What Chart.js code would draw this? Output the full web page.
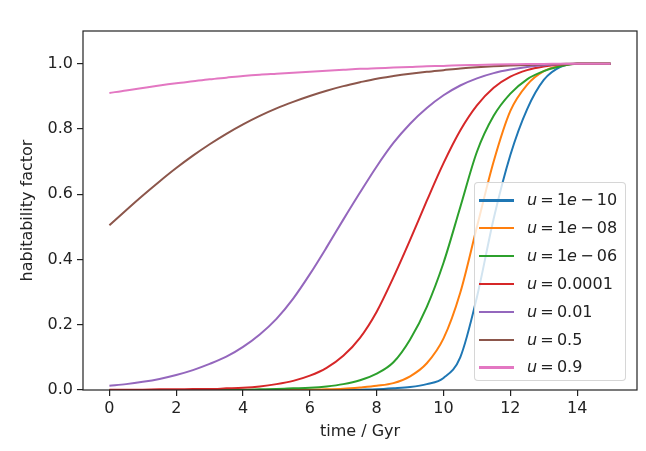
<!DOCTYPE html>
<html>
<head>
<meta charset="utf-8">
<script src="https://cdn.jsdelivr.net/npm/chart.js@4"></script>
<style>
  body{margin:0;background:#fff;}
  #wrap{position:relative;width:646px;height:451px;}
  #legend{position:absolute;left:474px;top:182px;width:152px;height:199px;box-sizing:border-box;
    background:rgba(255,255,255,0.8);border:1px solid rgba(204,204,204,0.8);border-radius:4px;
    font-family:'DejaVu Sans';font-size:16px;color:#222;}
  .row{position:absolute;left:4px;height:20px;}
  .row .sw{position:absolute;left:0;top:9px;width:35px;height:2.6px;}
  .row .tx{position:absolute;left:48px;top:0;white-space:nowrap;line-height:20px;}
  .op{margin:0 0.2em;}
</style>
</head>
<body>
<div id="wrap">
  <canvas id="c" width="646" height="451"></canvas>
  <div id="legend"></div>
</div>
<script>
// time grid (Gyr), one value per 0.5 Gyr
const times=[0,0.5,1,1.5,2,2.5,3,3.5,4,4.5,5,5.5,6,6.5,7,7.5,8,8.5,9,9.5,10,10.5,11,11.5,12,12.5,13,13.5,14,14.5,15];

const uLabels=['1e-10','1e-08','1e-06','0.0001','0.01','0.5','0.9'];
const colors=['#1f77b4','#ff7f0e','#2ca02c','#d62728','#9467bd','#8c564b','#e377c2'];

const hU1e10=[0,0,0,0,0,0,0,0,0,0,0,0,0,0,0,0.001,0.002,0.005,0.009,0.018,0.037,0.1,0.285,0.525,0.72,0.86,0.95,0.99,1,1,1];
const hU1e08=[0,0,0,0,0,0,0,0,0,0,0,0.001,0.001,0.002,0.004,0.008,0.013,0.021,0.042,0.082,0.158,0.298,0.5,0.70,0.855,0.935,0.977,0.994,1,1,1];
const hU1e06=[0,0,0,0,0,0,0,0.001,0.001,0.002,0.003,0.005,0.007,0.011,0.018,0.03,0.05,0.085,0.155,0.255,0.39,0.56,0.73,0.84,0.908,0.952,0.977,0.992,1,1,1];
const hU1e04=[0.001,0.001,0.001,0.002,0.002,0.003,0.003,0.005,0.007,0.011,0.018,0.028,0.044,0.068,0.105,0.16,0.24,0.345,0.46,0.58,0.695,0.795,0.872,0.926,0.96,0.98,0.991,0.997,1,1,1];
const hU001=[0.013,0.018,0.025,0.034,0.046,0.061,0.08,0.102,0.132,0.17,0.218,0.28,0.355,0.437,0.522,0.605,0.685,0.757,0.816,0.864,0.903,0.933,0.955,0.971,0.982,0.99,0.995,0.998,1,1,1];
const hU05=[0.505,0.551,0.596,0.639,0.68,0.718,0.753,0.785,0.814,0.84,0.863,0.883,0.901,0.917,0.931,0.943,0.954,0.962,0.969,0.975,0.98,0.985,0.989,0.992,0.994,0.996,0.998,0.999,1,1,1];
const hU09=[0.91,0.918,0.925,0.933,0.94,0.946,0.952,0.957,0.962,0.966,0.969,0.972,0.975,0.978,0.981,0.984,0.986,0.988,0.99,0.992,0.993,0.995,0.996,0.997,0.998,0.999,0.999,1,1,1,1];

const series=[hU1e10,hU1e08,hU1e06,hU1e04,hU001,hU05,hU09];

const xTicks=[0,2,4,6,8,10,12,14];
const yTicks=[0,0.2,0.4,0.6,0.8,1.0];

Chart.defaults.font.family='DejaVu Sans';
Chart.defaults.font.size=16;
Chart.defaults.color='#222';

const frame={
  id:'frame',
  afterDatasetsDraw(chart){
    const a=chart.chartArea, ctx=chart.ctx;
    ctx.save();
    ctx.strokeStyle='#222';
    ctx.lineWidth=1.2;
    ctx.strokeRect(a.left,a.top,a.right-a.left,a.bottom-a.top);
    ctx.restore();
  }
};

const datasets=series.map((vals,i)=>({
  label:'u = '+uLabels[i],
  data:vals.map((v,k)=>({x:times[k],y:v})),
  borderColor:colors[i],
  borderWidth:2,
  pointRadius:0,
  fill:false,
  cubicInterpolationMode:'monotone',
  order:-i
}));

new Chart(document.getElementById('c'),{
  type:'line',
  data:{datasets},
  options:{
    responsive:false,
    animation:false,
    devicePixelRatio:1,
    layout:{padding:{top:31,right:9,left:0,bottom:0}},
    plugins:{legend:{display:false},tooltip:{enabled:false}},
    scales:{
      x:{
        type:'linear',min:-0.79,max:15.79,
        afterBuildTicks:s=>{s.ticks=xTicks.map(v=>({value:v}));},
        afterFit:s=>{s.height=61;},
        ticks:{padding:3,callback:v=>String(v)},
        grid:{drawOnChartArea:false,drawTicks:true,tickLength:6,tickColor:'#222',lineWidth:1.2},
        border:{display:false},
        // bottom titles are offset by padding.bottom
        title:{display:true,text:'time / Gyr',padding:{top:4,bottom:9.5}}
      },
      y:{
        type:'linear',min:0,max:1.1,
        afterBuildTicks:s=>{s.ticks=yTicks.map(v=>({value:v}));},
        afterFit:s=>{s.width=83;},
        ticks:{padding:4,callback:v=>v.toFixed(1)},
        grid:{drawOnChartArea:false,drawTicks:true,tickLength:6,tickColor:'#222',lineWidth:1.2},
        border:{display:false},
        title:{display:true,text:'habitability factor',padding:{top:18}}
      }
    }
  },
  plugins:[frame]
});

// legend in mathtext-like style
function fmtU(s){
  s=s.replace('e-','<i>e</i><span class="op">\u2212</span>');
  return '<i>u</i><span class="op">=</span>'+s;
}
const leg=document.getElementById('legend');
uLabels.forEach((u,i)=>{
  const r=document.createElement('div');
  r.className='row';
  r.style.top=(7+i*27.9)+'px';
  r.innerHTML='<div class="sw" style="background:'+colors[i]+'"></div><div class="tx">'+fmtU(u)+'</div>';
  leg.appendChild(r);
});
</script>
</body>
</html>
